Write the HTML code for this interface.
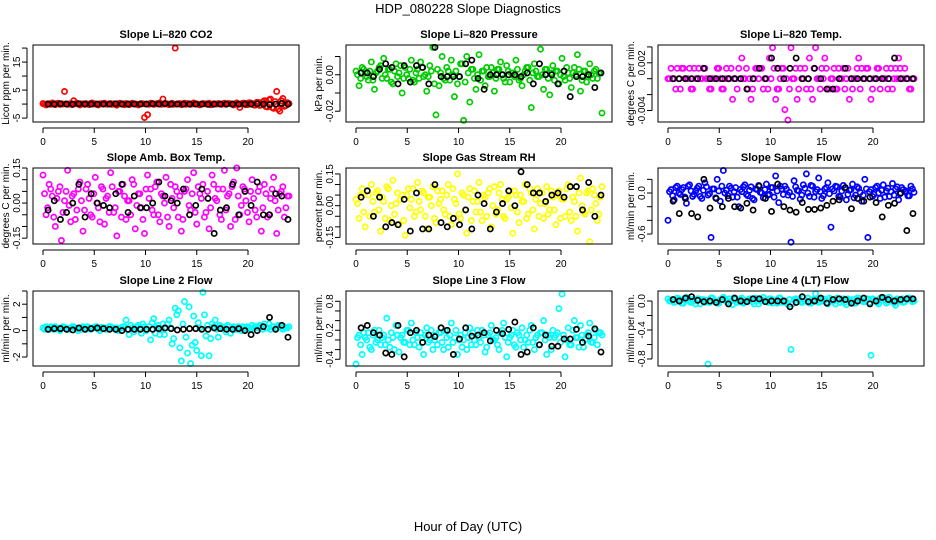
<!DOCTYPE html>
<html><head><meta charset="utf-8"><style>
html,body{margin:0;padding:0;background:#fff}
svg{display:block;font-family:"Liberation Sans",sans-serif}
</style></head><body>
<svg id="chart" width="936" height="540" viewBox="0 0 936 540" xmlns="http://www.w3.org/2000/svg">
<text x="468" y="13" font-size="13" text-anchor="middle">HDP_080228  Slope Diagnostics</text>
<text x="468" y="531" font-size="13" text-anchor="middle">Hour of Day (UTC)</text>
</svg>
<script>
const hours=[0,0.3,0.6,0.9,1.2,1.5,1.8,2.1,2.4,2.7,3,3.3,3.6,3.9,4.2,4.5,4.8,5.1,5.4,5.7,6,6.3,6.6,6.9,7.2,7.5,7.8,8.1,8.4,8.7,9,9.3,9.6,9.9,10.2,10.5,10.8,11.1,11.4,11.7,12,12.3,12.6,12.9,13.2,13.5,13.8,14.1,14.4,14.7,15,15.3,15.6,15.9,16.2,16.5,16.8,17.1,17.4,17.7,18,18.3,18.6,18.9,19.2,19.5,19.8,20.1,20.4,20.7,21,21.3,21.6,21.9,22.2,22.5,22.8,23.1,23.4,23.7,24];
const hours2=[0.15,0.45,0.75,1.05,1.35,1.65,1.95,2.25,2.55,2.85,3.15,3.45,3.75,4.05,4.35,4.65,4.95,5.25,5.55,5.85,6.15,6.45,6.75,7.05,7.35,7.65,7.95,8.25,8.55,8.85,9.15,9.45,9.75,10.05,10.35,10.65,10.95,11.25,11.55,11.85,12.15,12.45,12.75,13.05,13.35,13.65,13.95,14.25,14.55,14.85,15.15,15.45,15.75,16.05,16.35,16.65,16.95,17.25,17.55,17.85,18.15,18.45,18.75,19.05,19.35,19.65,19.95,20.25,20.55,20.85,21.15,21.45,21.75,22.05,22.35,22.65,22.95,23.25,23.55,23.85];
const blackHours=[0.5,1.1,1.7,2.3,2.9,3.5,4.1,4.7,5.3,5.9,6.5,7.1,7.7,8.3,8.9,9.5,10.1,10.7,11.3,11.9,12.5,13.1,13.7,14.3,14.9,15.5,16.1,16.7,17.3,17.9,18.5,19.1,19.7,20.3,20.9,21.5,22.1,22.7,23.3,23.9];
const xTicks=[0,5,10,15,20];

const co2Values=[0.2,-0.3,0.1,0.4,-0.2,0.3,0.1,4.5,-0.1,0.2,1.2,0.3,-0.3,0.1,0.2,-0.2,0.4,0.1,-0.3,0.2,0.3,-0.1,0.2,0.1,-0.4,0.3,0.1,0.2,-0.2,0.3,0.1,-0.3,0.2,-4.8,-3.8,0.3,-0.1,0.2,0.4,1.8,0.1,-0.2,0.3,20,0.1,-0.2,0.3,0.2,-0.1,0.4,0.1,-0.3,0.2,0.1,0.3,-0.2,0.1,0.2,-0.1,0.3,0.2,0.1,-0.3,0.4,-1.2,0.3,-0.2,0.5,0.2,-0.4,0.6,-0.3,1.2,-1,1.8,-1.5,4.5,-2.5,2,-0.5,0.2];
const co2Values2=[0,0.1,-0.1,0,0.2,-0.1,0,0.1,0,-0.2,0.1,0,0.1,-0.1,0,0.2,0,-0.1,0.1,0,0,0.1,-0.1,0,0.1,0,-0.2,0.1,0,0.1,-0.1,0,0.1,0,-0.1,0.2,0,0.1,-0.1,0,0.1,0,-0.1,0,0.2,0,-0.1,0.1,0,0.1,-0.1,0,0.1,0,-0.2,0.1,0,0.1,0,-0.1,0.2,0,0.1,-0.1,0,0.3,-0.2,0.4,-0.3,0.6,-0.5,0.8,-0.9,1.5,-1.2,0.9,-1.8,1.2,-0.8,0.5];
const co2Black=[0,0,0.1,0,0,0.1,0,0,0,0,0,0.1,0,0,0,0,0,0.1,0,0.2,0,0,0,0,0,0,-0.1,0,0,0,0,0,0,0,0.1,0,-0.2,0,0.2,0];
const pressureValues=[2,-6,4,1,-3,7,-8,2,5,9,-2,3,-5,6,1,-10,4,-2,8,-4,3,7,-1,-9,5,15,-22,-6,10,-3,2,8,-12,-5,6,-25,10,-15,3,-8,11,2,-6,-1,4,-9,3,7,-2,5,-4,1,8,-3,-6,2,4,-18,6,-1,14,-8,3,-11,5,2,-5,9,-3,1,-7,4,11,-9,2,-4,6,-2,3,1,-21].map(v=>v/1000);
const pressureValues2=[0,-2,3,-1,2,-3,1,4,-2,0,3,-4,2,-1,5,-2,0,3,-3,1,-2,4,0,-1,2,-5,3,1,-2,4,-3,0,2,-1,6,-4,1,3,-2,0,-3,2,4,-1,1,-2,3,0,-4,2,1,-1,3,-2,0,4,-3,1,2,-1,0,3,-2,1,-3,2,0,-1,4,-2,1,0,3,-3,2,-1,0,2,-2,1].map(v=>v/1000);
const pressureBlack=[1,1,-1,3,6,4,-5,5,-4,5,4,-5,15,-1,-1,-1,-1,6,8,-2,-8,0,0,0,0,0,-1,1,-5,6,0,0,-5,2,-12,-1,-1,0,-7,1].map(v=>v/1000);
const tempValues=[0,1,0,1,-1,1,0,1,-1,0,1,0,1,0,-1,0,1,0,-1,1,0,-2,0,1,2,0,-1,-2,0,1,1,-1,0,2,3,-2,-1,1,-3,-4,3,0,-2,1,0,-1,2,-2,3,0,1,2,-1,0,1,-1,0,1,0,-2,-1,0,2,1,0,1,-2,0,1,-1,0,1,0,-1,1,2,0,1,0,-1,0].map(v=>v*0.0013);
const tempValues2=[0,0,-1,0,1,0,0,-1,1,0,0,1,0,-1,0,0,1,-1,0,0,1,0,-1,0,0,1,0,-1,1,0,1,0,-1,0,1,-1,0,1,0,-1,0,1,-1,0,1,0,-1,1,0,-1,0,1,-1,0,-1,1,0,-1,1,0,0,1,-1,0,1,0,-1,0,1,0,0,-1,1,0,0,1,0,0,-1,0].map(v=>v*0.0013);
const tempBlack=[0,0,0,0,0,1,0,0,0,0,0,0,-1,0,1,0,2,1,0,1,2,0,0,1,0,-1,-1,0,1,0,0,0,0,0,0,0,2,0,0,0].map(v=>v*0.0013);
const ambValues=[0.12,-0.05,0.08,0.03,-0.1,0.05,-0.16,0.01,0.14,-0.08,0.04,-0.03,0.09,-0.12,0.06,0.02,-0.06,0.11,-0.02,0.07,-0.09,0.03,0.13,-0.04,-0.14,0.05,0.08,-0.07,0.01,0.1,-0.11,0.04,-0.02,-0.13,0.12,0.06,-0.05,0.09,-0.08,0.03,0.11,-0.1,0.02,0.07,-0.06,-0.12,0.05,0.1,-0.03,0.13,-0.09,0.04,0.08,-0.04,-0.11,0.12,0.02,0.06,-0.07,0.14,0.03,-0.1,0.09,0.15,-0.05,0.07,0.01,-0.08,0.1,-0.03,0.05,-0.12,0.08,-0.06,0.02,0.11,-0.13,0.04,0.07,-0.02,0.03];
const ambValues2=[0.04,-0.02,0.06,-0.06,0.02,0.07,-0.04,0.05,-0.01,0.03,-0.07,0.06,0.01,-0.03,0.08,-0.05,0.04,0.0,-0.08,0.06,0.02,-0.04,0.07,-0.02,0.05,-0.06,0.03,0.01,-0.05,0.08,-0.01,0.04,-0.07,0.06,0.02,-0.03,0.07,-0.05,0.04,0.0,-0.06,0.08,-0.02,0.05,0.03,-0.07,0.06,-0.01,0.04,-0.04,0.07,0.02,-0.06,0.05,-0.02,0.08,0.01,-0.05,0.06,-0.03,0.04,0.07,-0.07,0.03,-0.01,0.06,-0.04,0.05,0.02,-0.06,0.07,-0.02,0.04,-0.05,0.06,0.01,-0.03,0.05,-0.06,0.03];
const ambBlack=[-0.03,0.01,-0.07,-0.04,0.0,0.08,-0.06,0.04,0.0,-0.01,-0.02,0.04,0.08,-0.04,0.03,-0.02,-0.02,0.0,0.09,0.03,0.01,0.0,0.06,-0.05,-0.01,0.06,0.02,-0.13,-0.03,-0.02,0.08,-0.05,0.05,-0.01,0.09,-0.05,-0.05,0.04,0.03,-0.07];
const rhValues=[0.03,-0.06,0.08,-0.1,0.05,0.1,-0.03,0.07,-0.12,0.02,0.09,-0.07,0.12,0.01,-0.09,0.05,-0.14,0.08,0.03,-0.05,0.11,-0.02,0.06,-0.11,0.04,0.09,-0.08,0.01,0.07,-0.04,0.1,-0.09,0.03,0.15,-0.06,0.05,-0.13,0.08,0.02,-0.03,0.11,-0.07,0.04,0.06,-0.1,0.09,-0.02,0.1,-0.05,0.03,0.07,-0.13,0.05,-0.08,0.02,0.1,-0.04,0.06,-0.11,0.08,0.01,-0.06,0.09,-0.02,0.04,-0.09,0.07,0.03,-0.05,0.1,-0.07,0.02,-0.12,0.13,-0.03,0.06,-0.17,0.08,0.01,-0.04,0.09];
const rhValues2=[0.01,0.05,-0.03,0.07,-0.05,0.02,0.06,-0.02,0.04,-0.06,0.08,0.0,-0.04,0.06,0.03,-0.07,0.05,-0.01,0.08,-0.03,0.02,0.07,-0.05,0.04,0.0,-0.06,0.07,0.03,-0.02,0.05,-0.05,0.08,0.01,-0.04,0.06,-0.02,0.04,-0.07,0.07,0.02,-0.03,0.05,-0.05,0.08,0.0,-0.04,0.06,0.03,-0.06,0.04,-0.01,0.07,-0.03,0.05,0.02,-0.06,0.08,-0.02,0.03,-0.05,0.06,0.01,-0.04,0.07,-0.02,0.05,-0.06,0.03,0.08,-0.03,0.04,-0.05,0.06,0.0,-0.04,0.07,-0.02,0.05,-0.07,0.04];
const rhBlack=[0.04,0.07,-0.05,0.04,-0.1,-0.08,-0.09,0.03,-0.12,0.06,-0.11,-0.11,0.1,-0.08,-0.1,-0.06,-0.09,-0.02,-0.11,0.05,0.01,-0.11,-0.03,0.01,0.07,0.0,0.16,0.1,0.06,0.06,0.02,0.05,0.06,0.04,0.09,0.09,-0.02,0.11,-0.05,0.05];
const sampleValues=[-0.4,0.05,-0.1,0.1,-0.02,0.08,-0.15,0.12,-0.05,0.03,0.1,-0.08,0.15,-0.03,-0.65,0.06,0.2,-0.12,0.33,0.04,0.1,-0.06,0.08,-0.2,0.02,0.12,-0.04,0.09,-0.1,0.05,0.01,-0.07,0.13,-0.02,0.08,0.25,-0.14,0.06,0.1,-0.03,-0.72,0.18,0.04,-0.09,0.12,0.28,-0.05,0.1,0.02,0.22,-0.08,0.06,0.15,-0.5,0.03,0.09,-0.06,0.11,-0.1,0.04,0.13,-0.03,0.07,-0.12,0.2,-0.65,0.05,-0.02,0.1,-0.08,0.12,0.03,-0.05,0.14,0.06,-0.1,0.08,0.02,-0.04,0.1,0.01];
const sampleValues2=[0.02,-0.04,0.08,0.0,0.05,-0.06,0.1,0.03,-0.02,0.07,-0.05,0.04,0.09,-0.01,0.06,-0.07,0.03,0.1,0.0,-0.04,0.07,0.02,-0.06,0.05,0.09,-0.02,0.04,-0.08,0.06,0.11,0.0,0.05,-0.03,0.08,-0.06,0.03,0.1,-0.02,0.06,0.01,-0.05,0.09,0.03,-0.03,0.07,0.0,0.11,-0.06,0.05,0.02,-0.04,0.08,-0.01,0.06,0.1,-0.05,0.03,0.07,-0.02,0.05,-0.07,0.09,0.01,-0.03,0.06,0.02,-0.05,0.08,0.0,0.04,-0.06,0.07,0.02,-0.03,0.09,-0.01,0.05,0.03,-0.04,0.06];
const sampleBlack=[-0.12,-0.3,-0.08,-0.3,-0.35,0.2,-0.22,-0.08,-0.2,-0.08,-0.2,-0.22,-0.15,-0.25,0.1,-0.08,-0.27,0.13,-0.2,-0.25,-0.28,-0.14,-0.24,-0.24,-0.22,-0.18,-0.12,-0.1,0.08,-0.23,-0.08,-0.12,-0.06,-0.14,-0.35,-0.18,-0.15,0.0,-0.55,-0.3];
const line2Values=[0.2,0.3,0.1,0.2,0.3,0.1,0.2,0.25,0.1,0.2,0.3,0.15,0.2,0.3,0.1,0.2,0.2,0.3,0.1,0.25,0.2,0.1,0.3,0.2,0.2,0.15,0.3,0.8,-0.3,0.2,0.1,0.4,-0.2,0.3,0.1,-0.7,0.9,0.2,-0.3,0.5,0.2,0.8,-1,1.7,1.5,-2.3,2.2,-1.7,-2.5,1.1,-1.5,0.2,2.9,-0.4,-1.9,0.5,0.8,-0.5,0.3,0.2,0.4,-0.2,0.3,0.1,0.2,0.3,0.1,0.2,0.4,0.3,0.2,0.3,0.5,0.2,0.1,0.3,0.2,0.3,0.1,0.2,0.3];
const line2Values2=[0.1,0.2,0.3,0.1,0.2,0.0,0.3,0.2,0.1,0.3,0.2,0.0,0.1,0.2,0.3,0.1,0.2,0.3,0.0,0.2,0.1,0.3,0.2,0.1,0.0,0.2,0.3,0.1,0.4,-0.1,0.3,0.2,0.5,0.0,0.3,0.6,-0.2,0.4,0.1,-0.3,0.5,0.2,-0.6,1.2,-1.3,0.5,-0.5,1.8,-1.1,-0.9,0.6,-1.9,1.2,0.4,-0.6,0.3,0.1,0.4,0.2,-0.1,0.3,0.2,0.1,0.3,0.0,0.2,0.3,0.1,0.2,0.3,0.4,0.1,0.2,0.5,0.3,0.1,0.4,0.2,0.3,0.2];
const line2Black=[0.1,0.15,0.15,0.1,0.05,0.2,0.1,0.15,0.2,0.15,0.1,0.1,0.0,0.1,0.1,0.1,0.1,0.1,0.15,0.2,0.15,0.05,0.1,0.15,0.15,0.1,0.1,0.2,0.15,0.1,0.1,0.15,0.0,-0.3,0.0,0.3,1.0,0.1,0.4,-0.5];
const line3Values=[-0.5,0.1,-0.3,0.05,0.15,-0.2,0.2,0,-0.1,0.1,0.45,-0.15,0.05,0.3,-0.25,0.1,-0.05,0.2,0.35,-0.1,0.05,0.15,-0.3,0.25,0,-0.2,0.1,0.15,-0.05,0.2,-0.15,0.35,0.05,-0.3,0.1,0,-0.2,0.25,0.15,-0.1,0.05,0.2,-0.25,0.1,0.3,0,-0.1,0.15,0.35,-0.35,0.05,0.2,-0.15,0.1,0.25,0,-0.05,0.3,-0.2,0.1,0.15,0.4,-0.3,0.05,0.2,0.1,0.65,0.95,-0.35,0.25,-0.1,0.4,0.05,0.3,-0.15,0.1,0.35,-0.05,0.2,0.15,0.1];
const line3Values2=[0.05,-0.1,0.15,0.0,-0.15,0.1,-0.05,0.2,0.05,-0.1,0.0,0.15,-0.2,0.1,0.05,-0.05,0.2,-0.1,0.0,0.15,-0.15,0.05,0.1,-0.05,0.2,0.0,-0.1,0.15,-0.2,0.05,0.1,-0.05,0.2,0.0,-0.15,0.15,0.05,-0.1,0.0,0.2,-0.05,0.1,-0.15,0.15,0.0,0.05,-0.2,0.2,0.05,-0.05,0.1,-0.1,0.15,0.0,-0.15,0.1,0.2,-0.05,0.05,-0.1,0.15,0.0,0.1,-0.2,0.05,0.15,-0.05,0.1,0.0,-0.1,0.2,0.05,-0.15,0.1,0.0,0.15,-0.05,0.05,-0.1,0.15];
const line3Black=[0.25,0.3,0.15,0.1,-0.27,-0.3,0.3,-0.35,0.15,0.2,-0.05,0.1,0.07,0.25,0.2,-0.3,0.02,0.25,0.08,0.1,0.15,-0.02,0.2,0.13,0.22,0.37,-0.3,-0.25,0.25,-0.1,0.1,-0.13,-0.13,0.02,0.02,0.22,-0.05,0.08,0.23,-0.25];
const line4Values=[0.03,0,-0.02,0.04,0.01,-0.03,0.05,0,0.02,-0.04,0.03,0.01,-0.02,-0.87,0.04,0,-0.03,0.02,0.05,-0.01,0.03,-0.05,0.02,0,0.04,-0.02,0.01,0.03,-0.04,0.02,0,0.05,-0.01,0.03,-0.03,0.01,0.04,-0.02,0,-0.05,-0.67,0.02,0.03,-0.01,0.04,0,-0.03,0.02,0.1,-0.02,0.03,0.01,-0.04,0.02,0,0.04,-0.02,0.03,-0.05,0.01,0.02,-0.03,0.04,0,-0.01,0.03,-0.75,0.02,-0.02,0.04,0.01,-0.03,0.05,0,-0.06,0.02,0.03,-0.01,0.04,0.02,0];
const line4Values2=[0.0,0.02,-0.01,0.03,-0.03,0.01,0.04,-0.02,0.0,0.03,-0.04,0.02,0.01,-0.02,0.04,0.0,-0.03,0.02,0.03,-0.01,0.0,0.04,-0.02,0.02,-0.03,0.01,0.03,-0.01,0.04,-0.04,0.02,0.0,-0.02,0.03,0.01,-0.03,0.04,0.0,-0.01,0.02,-0.04,0.03,0.01,-0.02,0.0,0.04,-0.03,0.02,0.01,-0.01,0.03,-0.02,0.04,0.0,-0.04,0.02,0.01,-0.02,0.03,0.0,-0.03,0.04,0.01,-0.01,0.02,-0.02,0.03,0.0,-0.04,0.02,0.04,-0.01,0.01,-0.03,0.03,0.0,-0.02,0.02,0.04,-0.01];
const line4Black=[0.02,0.0,0.04,0.06,0.01,-0.01,0.0,-0.02,0.02,-0.04,0.04,0.0,-0.01,0.03,0.03,-0.01,0.0,0.0,0.0,-0.08,-0.02,0.06,-0.01,0.0,0.04,-0.03,0.02,0.03,0.02,-0.03,0.0,0.04,-0.04,0.0,0.05,0.02,0.0,0.02,0.03,0.03];

const co2Ticks=[-5,0,5,10,15,20], co2Labels=["-5","","5","","15",""];
const pressureTicks=[-0.02,-0.01,0,0.01], pressureLabels=["-0.02","","0.00",""];
const tempTicks=[-0.004,-0.002,0,0.002,0.004], tempLabels=["-0.004","","","0.002",""];
const ambTicks=[-0.15,-0.1,-0.05,0,0.05,0.1,0.15], ambLabels=["-0.15","","","0.00","","","0.15"];
const rhTicks=[-0.15,-0.1,-0.05,0,0.05,0.1,0.15], rhLabels=["-0.15","","","0.00","","","0.15"];
const sampleTicks=[-0.6,-0.4,-0.2,0,0.2], sampleLabels=["-0.6","","","0.0",""];
const line2Ticks=[-2,-1,0,1,2,3], line2Labels=["-2","","0","","2",""];
const line3Ticks=[-0.4,-0.2,0,0.2,0.4,0.6,0.8], line3Labels=["-0.4","","","0.2","","","0.8"];
const line4Ticks=[-0.8,-0.6,-0.4,-0.2,0], line4Labels=["-0.8","","-0.4","","0.0"];

const NS="http://www.w3.org/2000/svg";
const svg=document.getElementById('chart');
function mk(tag,attrs,parent){const e=document.createElementNS(NS,tag);for(const k in attrs)e.setAttribute(k,attrs[k]);(parent||svg).appendChild(e);return e;}

const colLeft=[33,346,658], rowTop=[45,168,291], rowBottom=[122,244,366], boxW=266;
const panels=[
 {name:"co2",title:"Slope Li\u2013820 CO2",ylab:"Licor ppm per min.",col:"#ff0000",v:co2Values,v2:co2Values2,b:co2Black,ymin:-6.4,ymax:21.1,ticks:co2Ticks,labels:co2Labels},
 {name:"pressure",title:"Slope Li\u2013820 Pressure",ylab:"kPa per min.",col:"#00cd00",v:pressureValues,v2:pressureValues2,b:pressureBlack,ymin:-0.0259,ymax:0.0163,ticks:pressureTicks,labels:pressureLabels},
 {name:"temp",title:"Slope Li\u2013820 Temp.",ylab:"degrees C per min.",col:"#ff00ff",v:tempValues,v2:tempValues2,b:tempBlack,ymin:-0.00545,ymax:0.00424,ticks:tempTicks,labels:tempLabels},
 {name:"amb-temp",title:"Slope Amb. Box Temp.",ylab:"degrees C per min.",col:"#ff00ff",v:ambValues,v2:ambValues2,b:ambBlack,ymin:-0.175,ymax:0.15,ticks:ambTicks,labels:ambLabels},
 {name:"rh",title:"Slope Gas Stream RH",ylab:"percent per min.",col:"#ffff00",v:rhValues,v2:rhValues2,b:rhBlack,ymin:-0.181,ymax:0.178,ticks:rhTicks,labels:rhLabels},
 {name:"sample-flow",title:"Slope Sample Flow",ylab:"ml/min per min.",col:"#0000ff",v:sampleValues,v2:sampleValues2,b:sampleBlack,ymin:-0.746,ymax:0.366,ticks:sampleTicks,labels:sampleLabels},
 {name:"line2-flow",title:"Slope Line 2 Flow",ylab:"ml/min per min.",col:"#00ffff",v:line2Values,v2:line2Values2,b:line2Black,ymin:-2.68,ymax:3.0,ticks:line2Ticks,labels:line2Labels},
 {name:"line3-flow",title:"Slope Line 3 Flow",ylab:"ml/min per min.",col:"#00ffff",v:line3Values,v2:line3Values2,b:line3Black,ymin:-0.539,ymax:1.013,ticks:line3Ticks,labels:line3Labels},
 {name:"line4-flow",title:"Slope Line 4 (LT) Flow",ylab:"ml/min per min.",col:"#00ffff",v:line4Values,v2:line4Values2,b:line4Black,ymin:-0.897,ymax:0.138,ticks:line4Ticks,labels:line4Labels}
];

panels.forEach((p,i)=>{
 const L=colLeft[i%3], T=rowTop[Math.floor(i/3)], B=rowBottom[Math.floor(i/3)], R=L+boxW;
 const g=mk('g',{});
 
 
 const xs=h=>L+10+h*10.25;
 const ys=v=>B-(v-p.ymin)/(p.ymax-p.ymin)*(B-T);
 const t=mk('text',{x:(L+R)/2,y:T-7,'font-size':11,'font-weight':'bold','text-anchor':'middle'},g);
 t.textContent=p.title;
 
 
 const yl=mk('text',{transform:`translate(${L-24},${(T+B)/2}) rotate(-90)`,'font-size':10,'text-anchor':'middle'},g);
 yl.textContent=p.ylab;
 
 
 const xa=mk('g',{},g);
 
 
 mk('line',{x1:xs(xTicks[0]),x2:xs(xTicks[xTicks.length-1]),y1:B+6,y2:B+6,stroke:'#000'},xa);
 xTicks.forEach(h=>{
  mk('line',{x1:xs(h),x2:xs(h),y1:B+6,y2:B+11,stroke:'#000'},xa);
  const lt=mk('text',{x:xs(h),y:B+23,'font-size':10,'text-anchor':'middle'},xa);
  lt.textContent=h;
  
  
 });
 const ya=mk('g',{},g);
 
 
 mk('line',{x1:L-6,x2:L-6,y1:ys(p.ticks[0]),y2:ys(p.ticks[p.ticks.length-1]),stroke:'#000'},ya);
 p.ticks.forEach((v,k)=>{
  const y=ys(v);
  mk('line',{x1:L-11,x2:L-6,y1:y,y2:y,stroke:'#000'},ya);
  if(p.labels[k]){
   const lt=mk('text',{transform:`translate(${L-13},${y}) rotate(-90)`,'font-size':10,'text-anchor':'middle'},ya);
   lt.textContent=p.labels[k];
   
   
  }
 });
 const n2=Math.min(hours2.length,p.v2.length);
 for(let k=0;k<n2;k++){
  const c=mk('circle',{cx:xs(hours2[k]),cy:ys(p.v2[k]),r:2.6,fill:'none',stroke:p.col,'stroke-width':1.7},g);
  
  
 }
 const n=Math.min(hours.length,p.v.length);
 for(let k=0;k<n;k++){
  const c=mk('circle',{cx:xs(hours[k]),cy:ys(p.v[k]),r:2.6,fill:'none',stroke:p.col,'stroke-width':1.7},g);
  
  
 }
 const m=Math.min(blackHours.length,p.b.length);
 for(let k=0;k<m;k++){
  const c=mk('circle',{cx:xs(blackHours[k]),cy:ys(p.b[k]),r:2.6,fill:'none',stroke:'#000','stroke-width':1.7},g);
  
  
 }
 const box=mk('rect',{x:L,y:T,width:boxW,height:B-T,fill:'none',stroke:'#000','stroke-width':1},g);
 
 
});
</script>
</body></html>
